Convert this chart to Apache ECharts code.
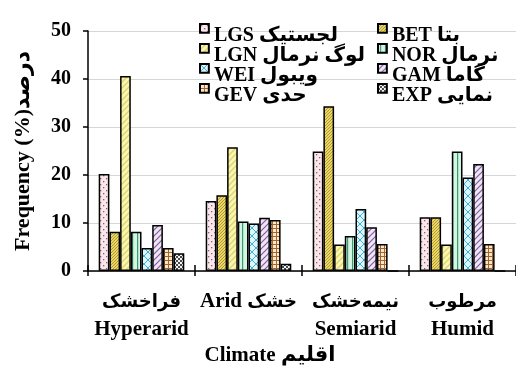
<!DOCTYPE html>
<html>
<head>
<meta charset="utf-8">
<style>
  html, body { margin: 0; padding: 0; background: #ffffff; }
  #chart { width: 516px; height: 372px; }
</style>
<script src="https://cdn.jsdelivr.net/npm/echarts@6/dist/echarts.min.js"></script>
</head>
<body>
<div id="chart"></div>
<script>
// Climate classes (Persian / English)
const categories = ['فراخشک\nHyperarid', 'Arid خشک', 'نیمه\u200cخشک\nSemiarid', 'مرطوب\nHumid'];

// Frequency (%) of best-fit distribution per climate class
const LGS = [20.2, 14.6, 24.9, 11.2];
const BET = [8.2, 15.8, 34.3, 11.2];
const LGN = [40.6, 25.8, 5.5, 5.5];
const NOR = [8.2, 10.3, 7.3, 24.9];
const WEI = [4.8, 9.9, 12.9, 19.5];
const GAM = [9.6, 11.1, 9.1, 22.3];
const GEV = [4.8, 10.6, 5.6, 5.6];
const EXP = [3.7, 1.5, 0, 0];

const yTicks = [0, 10, 20, 30, 40, 50];

const FONT = "'Liberation Serif', 'DejaVu Sans', serif";

// small repeating fill tiles for the hatched bars
function tile(size, bg, draw) {
  const c = document.createElement('canvas');
  c.width = size; c.height = size;
  const g = c.getContext('2d');
  g.fillStyle = bg;
  g.fillRect(0, 0, size, size);
  draw(g, size);
  return { image: c, repeat: 'repeat' };
}

function diagonal(g, s) {
  g.beginPath();
  g.moveTo(0, s); g.lineTo(s, 0);
  g.moveTo(-s / 2, s / 2); g.lineTo(s / 2, -s / 2);
  g.moveTo(s / 2, s * 1.5); g.lineTo(s * 1.5, s / 2);
  g.stroke();
}

const fills = {
  LGS: tile(6, '#fce6ec', (g) => {
    g.fillStyle = '#7a6a6e';
    g.fillRect(1, 1, 1.3, 1.3);
    g.fillRect(4, 4, 1.3, 1.3);
  }),
  BET: tile(3, '#e9d76a', (g) => {
    g.fillStyle = '#b29a2c';
    g.fillRect(0, 0, 1, 1);
    g.fillRect(2, 1, 1, 1);
    g.fillRect(1, 2, 1, 1);
  }),
  LGN: tile(6, '#f9f5b2', (g, s) => {
    g.strokeStyle = '#ddd46c';
    g.lineWidth = 1.3;
    diagonal(g, s);
  }),
  NOR: tile(5, '#d4f4e4', (g) => {
    g.fillStyle = '#3a9c6c';
    g.fillRect(2, 0, 1.2, 5);
  }),
  WEI: tile(8, '#def5fb', (g, s) => {
    g.strokeStyle = '#3fb2d2';
    g.lineWidth = 1;
    g.beginPath();
    g.moveTo(0, 0); g.lineTo(s, s);
    g.moveTo(s, 0); g.lineTo(0, s);
    g.stroke();
  }),
  GAM: tile(6, '#f1e5f5', (g, s) => {
    g.strokeStyle = '#7c5e9e';
    g.lineWidth = 1.2;
    diagonal(g, s);
  }),
  GEV: tile(4, '#fce7cb', (g) => {
    g.fillStyle = '#a0652e';
    g.fillRect(0, 0, 4, 1);
    g.fillRect(0, 0, 1, 4);
  }),
  EXP: tile(4, '#f4f4f4', (g) => {
    g.fillStyle = '#4a4a4a';
    g.fillRect(0, 0, 2, 2);
    g.fillRect(2, 2, 2, 2);
  })
};

const seriesDefs = [
  { key: 'LGS', name: 'LGS لجستیک', data: LGS },
  { key: 'BET', name: 'BET بتا', data: BET },
  { key: 'LGN', name: 'LGN لوگ نرمال', data: LGN },
  { key: 'NOR', name: 'NOR نرمال', data: NOR },
  { key: 'WEI', name: 'WEI ویبول', data: WEI },
  { key: 'GAM', name: 'GAM گاما', data: GAM },
  { key: 'GEV', name: 'GEV حدی', data: GEV },
  { key: 'EXP', name: 'EXP نمایی', data: EXP }
];

const series = seriesDefs.map((s) => ({
  type: 'bar',
  name: s.name,
  data: s.data,
  xAxisIndex: 0,
  barGap: '0%',
  barCategoryGap: '20%',
  itemStyle: { color: fills[s.key], borderColor: '#000000', borderWidth: 1.5 },
  emphasis: { disabled: true }
}));

// square swatch sitting in the upper part of the legend row
const swatch = 'path://M0,0 L10,0 L10,10 L0,10 Z M0,26';

const legendText = {
  color: '#000000',
  fontFamily: FONT,
  fontWeight: 'bold',
  fontSize: 20,
  lineHeight: 20
};

function legendColumn(left, names) {
  return {
    orient: 'vertical', left: left, top: 23, padding: 0,
    icon: swatch, itemWidth: 9, itemHeight: 23, itemGap: -5,
    data: names, textStyle: legendText, selectedMode: false
  };
}

// Persian runs of a label get their own text style
function tagPersian(text) {
  return text.replace(/[\u0600-\u06FF\u200c]+/g, (m) => '{fa|' + m + '}');
}

const chart = echarts.init(document.getElementById('chart'), null, { renderer: 'canvas' });
chart.setOption({
  animation: false,
  backgroundColor: '#ffffff',
  grid: { left: 88, top: 31, width: 436, height: 240, containLabel: false },
  legend: [
    legendColumn(199, [seriesDefs[0].name, seriesDefs[2].name, seriesDefs[4].name, seriesDefs[6].name]),
    legendColumn(377, [seriesDefs[1].name, seriesDefs[3].name, seriesDefs[5].name, seriesDefs[7].name])
  ],
  xAxis: [
    {
      type: 'category',
      data: categories,
      boundaryGap: true,
      axisLine: { lineStyle: { color: '#000000', width: 1.5 } },
      axisTick: { show: true, length: 5, lineStyle: { color: '#000000', width: 1.5 } },
      axisLabel: {
        color: '#000000', fontFamily: FONT, fontWeight: 'bold', fontSize: 21,
        lineHeight: 28, margin: 17, interval: 0,
        formatter: tagPersian,
        rich: {
          fa: { color: '#000000', fontFamily: FONT, fontWeight: 'bold', fontSize: 18, lineHeight: 28 }
        }
      },
      splitLine: { show: false }
    },
    {
      type: 'category',
      data: categories,
      position: 'bottom',
      boundaryGap: true,
      axisLine: { show: false },
      axisTick: { show: true, inside: true, length: 6, lineStyle: { color: '#000000', width: 1.5 } },
      axisLabel: { show: false },
      splitLine: { show: false }
    }
  ],
  yAxis: {
    type: 'value',
    min: yTicks[0],
    max: yTicks[yTicks.length - 1],
    interval: 10,
    name: 'Frequency (%)درصد',
    nameLocation: 'middle',
    nameRotate: 90,
    nameGap: 54,
    nameTextStyle: { color: '#000000', fontFamily: FONT, fontWeight: 'bold', fontSize: 22 },
    axisLine: { show: true, lineStyle: { color: '#000000', width: 1.5 } },
    axisTick: { show: true, length: 5, lineStyle: { color: '#000000', width: 1.5 } },
    axisLabel: { color: '#000000', fontFamily: FONT, fontWeight: 'bold', fontSize: 20, margin: 17 },
    splitLine: { show: true, lineStyle: { color: '#d6d6d6', width: 1 } }
  },
  graphic: [
    {
      type: 'text',
      x: 270, y: 356,
      style: {
        text: 'Climate اقلیم',
        fill: '#000000',
        font: "bold 21px 'Liberation Serif', 'DejaVu Sans', serif",
        align: 'center',
        verticalAlign: 'middle'
      }
    }
  ],
  series: series
});
</script>
</body>
</html>
